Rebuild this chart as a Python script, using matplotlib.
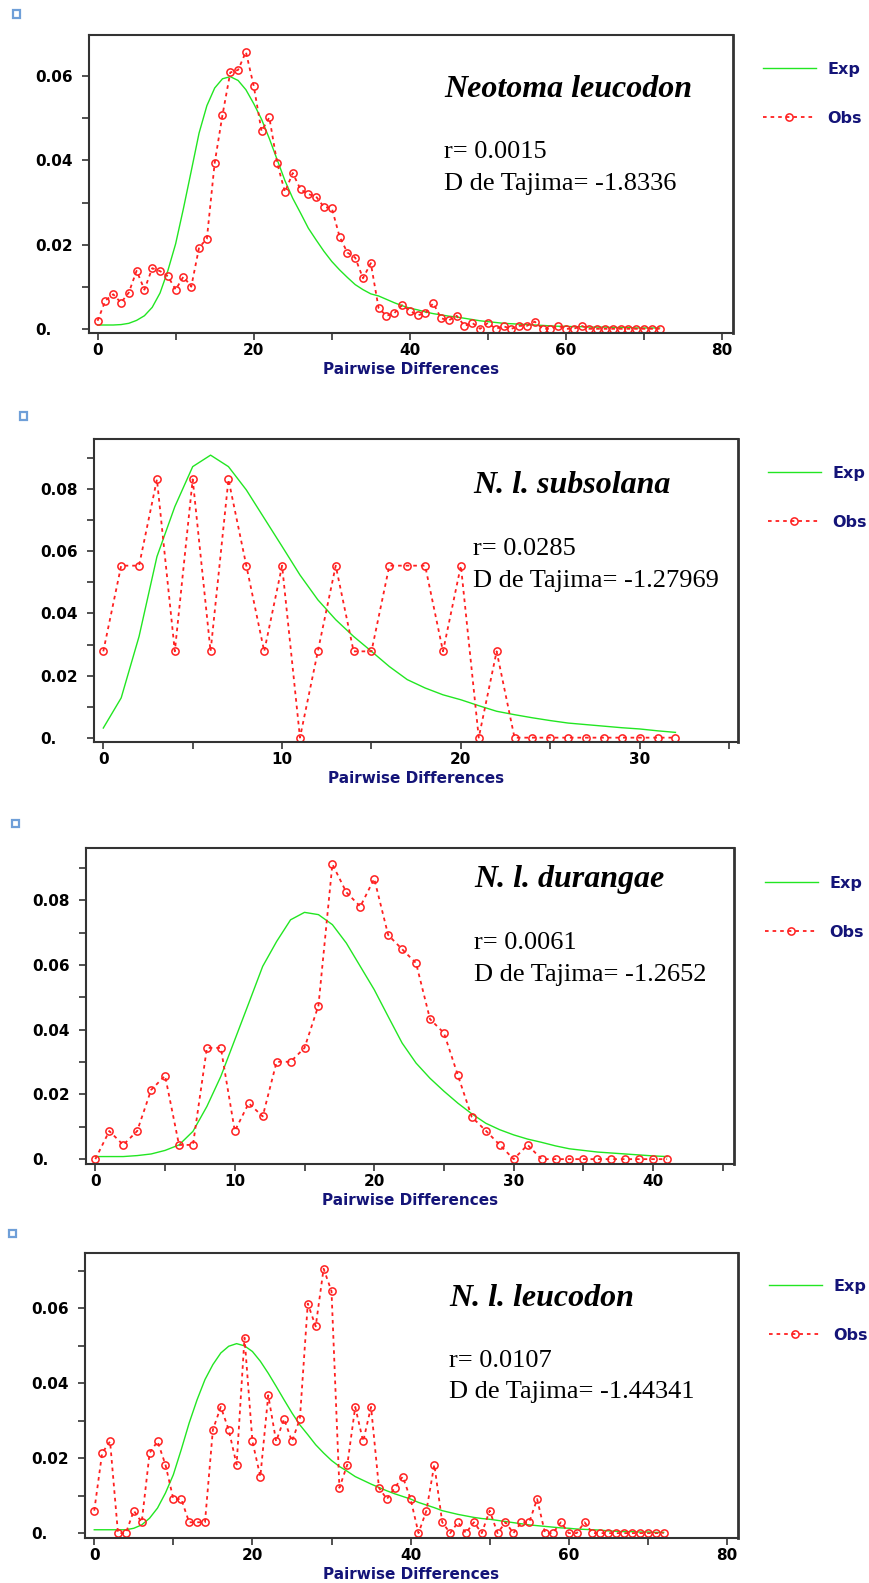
import numpy as np
import matplotlib
matplotlib.use("Agg")
import matplotlib.pyplot as plt
from matplotlib.patches import Rectangle
from matplotlib.ticker import MultipleLocator, FuncFormatter

W, H = 869, 1583

# mismatch distributions
exp_all = [0.0009, 0.0009, 0.0009, 0.0010, 0.0013, 0.0020, 0.0031, 0.0051, 0.0085, 0.0138,
           0.0202, 0.0286, 0.0375, 0.0465, 0.0530, 0.0572, 0.0594, 0.0599, 0.0590, 0.0568,
           0.0535, 0.0498, 0.0452, 0.0402, 0.0352, 0.0310, 0.0275, 0.0239, 0.0211, 0.0184,
           0.0160, 0.0140, 0.0122, 0.0105, 0.0093, 0.0083, 0.0078, 0.0070, 0.0062, 0.0055,
           0.0049, 0.0045, 0.0040, 0.0036, 0.0033, 0.0030, 0.0028, 0.0025, 0.0022, 0.0019,
           0.0017, 0.0015, 0.0013, 0.0012, 0.0011, 0.0010, 0.0009, 0.0008, 0.0007, 0.0006,
           0.0006, 0.0005, 0.0005, 0.0004, 0.0004, 0.0004, 0.0003, 0.0003, 0.0003, 0.0002,
           0.0002, 0.0002, 0.0002]
obs_all = [0.0019, 0.0067, 0.0082, 0.0062, 0.0086, 0.0138, 0.0093, 0.0144, 0.0137, 0.0125,
           0.0093, 0.0124, 0.0100, 0.0193, 0.0214, 0.0394, 0.0508, 0.0609, 0.0615, 0.0658,
           0.0577, 0.0470, 0.0502, 0.0394, 0.0325, 0.0370, 0.0331, 0.0320, 0.0314, 0.0289,
           0.0287, 0.0219, 0.0181, 0.0169, 0.0120, 0.0156, 0.0049, 0.0031, 0.0037, 0.0056,
           0.0043, 0.0032, 0.0037, 0.0061, 0.0025, 0.0020, 0.0031, 0.0007, 0.0014, 0.0000,
           0.0014, 0.0000, 0.0006, 0.0000, 0.0007, 0.0007, 0.0017, 0.0000, 0.0000, 0.0007,
           0.0000, 0.0000, 0.0007, 0.0000, 0.0000, 0.0000, 0.0000, 0.0000, 0.0000, 0.0000,
           0.0000, 0.0000, 0.0000]

exp_sub = [0.0031, 0.0128, 0.0326, 0.0583, 0.0744, 0.0873, 0.0910, 0.0873, 0.0798, 0.0707,
           0.0616, 0.0524, 0.0444, 0.0380, 0.0326, 0.0278, 0.0229, 0.0187, 0.0160, 0.0138,
           0.0122, 0.0103, 0.0085, 0.0074, 0.0064, 0.0055, 0.0047, 0.0042, 0.0037, 0.0032,
           0.0028, 0.0022, 0.0017]
obs_sub = [0.0278, 0.0554, 0.0554, 0.0832, 0.0278, 0.0832, 0.0278, 0.0832, 0.0554, 0.0278,
           0.0554, 0.0000, 0.0278, 0.0554, 0.0278, 0.0278, 0.0554, 0.0554, 0.0554, 0.0278,
           0.0554, 0.0000, 0.0278, 0.0000, 0.0000, 0.0000, 0.0000, 0.0000, 0.0000, 0.0000,
           0.0000, 0.0000, 0.0000]

exp_dur = [0.0008, 0.0008, 0.0008, 0.0011, 0.0016, 0.0027, 0.0044, 0.0086, 0.0163, 0.0256,
           0.0369, 0.0482, 0.0596, 0.0673, 0.0740, 0.0763, 0.0756, 0.0725, 0.0668, 0.0596,
           0.0524, 0.0441, 0.0359, 0.0297, 0.0250, 0.0210, 0.0173, 0.0140, 0.0111, 0.0091,
           0.0075, 0.0062, 0.0052, 0.0041, 0.0032, 0.0027, 0.0022, 0.0019, 0.0016, 0.0013,
           0.0010, 0.0008]
obs_dur = [0.0000, 0.0087, 0.0044, 0.0087, 0.0214, 0.0258, 0.0044, 0.0044, 0.0344, 0.0344,
           0.0087, 0.0173, 0.0132, 0.0301, 0.0301, 0.0344, 0.0475, 0.0912, 0.0825, 0.0781,
           0.0867, 0.0693, 0.0649, 0.0606, 0.0433, 0.0390, 0.0259, 0.0130, 0.0088, 0.0044,
           0.0000, 0.0044, 0.0000, 0.0000, 0.0000, 0.0000, 0.0000, 0.0000, 0.0000, 0.0000,
           0.0000, 0.0000]

exp_leu = [0.0009, 0.0009, 0.0009, 0.0009, 0.0009, 0.0013, 0.0022, 0.0040, 0.0067, 0.0107,
           0.0156, 0.0223, 0.0294, 0.0356, 0.0410, 0.0450, 0.0481, 0.0499, 0.0506, 0.0500,
           0.0485, 0.0459, 0.0427, 0.0392, 0.0356, 0.0321, 0.0289, 0.0263, 0.0236, 0.0214,
           0.0194, 0.0178, 0.0165, 0.0151, 0.0141, 0.0131, 0.0122, 0.0113, 0.0105, 0.0098,
           0.0091, 0.0082, 0.0075, 0.0068, 0.0060, 0.0055, 0.0050, 0.0046, 0.0042, 0.0039,
           0.0037, 0.0034, 0.0031, 0.0028, 0.0025, 0.0022, 0.0020, 0.0018, 0.0016, 0.0014,
           0.0013, 0.0011, 0.0010, 0.0009, 0.0008, 0.0006, 0.0005, 0.0004, 0.0004, 0.0003,
           0.0003, 0.0002, 0.0002]
obs_leu = [0.0060, 0.0214, 0.0245, 0.0000, 0.0000, 0.0060, 0.0029, 0.0214, 0.0245, 0.0183,
           0.0091, 0.0091, 0.0029, 0.0029, 0.0029, 0.0276, 0.0337, 0.0276, 0.0183, 0.0522,
           0.0245, 0.0151, 0.0368, 0.0245, 0.0305, 0.0245, 0.0305, 0.0613, 0.0552, 0.0706,
           0.0646, 0.0121, 0.0183, 0.0337, 0.0245, 0.0337, 0.0121, 0.0091, 0.0121, 0.0151,
           0.0091, 0.0000, 0.0060, 0.0183, 0.0029, 0.0000, 0.0029, 0.0000, 0.0029, 0.0000,
           0.0060, 0.0000, 0.0029, 0.0000, 0.0029, 0.0029, 0.0091, 0.0000, 0.0000, 0.0029,
           0.0000, 0.0000, 0.0029, 0.0000, 0.0000, 0.0000, 0.0000, 0.0000, 0.0000, 0.0000,
           0.0000, 0.0000, 0.0000]

titles = ["Neotoma leucodon", "N. l. subsolana", "N. l. durangae", "N. l. leucodon"]
r_vals = ["0.0015", "0.0285", "0.0061", "0.0107"]
tajima = ["-1.8336", "-1.27969", "-1.2652", "-1.44341"]

GREEN = "#22e622"
RED = "#ff2020"
NAVY = "#141478"
SPINE = "#333333"

# layout per panel, in pixels: axes box (l, t, r, b), limits, tick steps,
# text anchor, legend anchor, little square
panels = [
    dict(exp=exp_all, obs=obs_all, box=(89, 35, 733, 333), xlim=(-1.1, 81.4), ylim=(-0.001, 0.0698),
         xmaj=20, xmin=10, txt=(444, 97, 158, 190), leg=(763, 62), sq=(16, 14)),
    dict(exp=exp_sub, obs=obs_sub, box=(94, 439, 738, 742), xlim=(-0.52, 35.5), ylim=(-0.0014, 0.0962),
         xmaj=10, xmin=5, txt=(473, 493, 555, 587), leg=(768, 466), sq=(23, 416)),
    dict(exp=exp_dur, obs=obs_dur, box=(86, 848, 734, 1164), xlim=(-0.67, 45.8), ylim=(-0.0015, 0.0962),
         xmaj=10, xmin=5, txt=(474, 887, 949, 981), leg=(765, 876), sq=(15, 824)),
    dict(exp=exp_leu, obs=obs_leu, box=(85, 1253, 738, 1538), xlim=(-1.17, 81.4), ylim=(-0.0013, 0.0748),
         xmaj=20, xmin=10, txt=(449, 1306, 1367, 1398), leg=(769, 1279), sq=(12, 1233)),
]


def yfmt(v, pos):
    if abs(v) < 1e-9:
        return "0."
    return "%.2f" % v


fig = plt.figure(figsize=(W / 100, H / 100), dpi=100)
fig.patch.set_facecolor("white")

for i, p in enumerate(panels):
    l, t, r, b = p["box"]
    ax = fig.add_axes([l / W, 1 - b / H, (r - l) / W, (b - t) / H])
    ax.plot(np.arange(len(p["exp"])), p["exp"], color=GREEN, lw=1.0, label="Exp")
    ax.plot(np.arange(len(p["obs"])), p["obs"], color=RED, lw=1.3, ls=(0, (2.0, 2.2)),
            marker="o", ms=5.2, mfc="none", mec=RED, mew=1.1, label="Obs")
    ax.set_xlim(*p["xlim"])
    ax.set_ylim(*p["ylim"])
    ax.xaxis.set_major_locator(MultipleLocator(p["xmaj"]))
    ax.xaxis.set_minor_locator(MultipleLocator(p["xmin"]))
    ax.yaxis.set_major_locator(MultipleLocator(0.02))
    ax.yaxis.set_minor_locator(MultipleLocator(0.01))
    ax.yaxis.set_major_formatter(FuncFormatter(yfmt))
    for s in ax.spines.values():
        s.set_color(SPINE)
        s.set_linewidth(1.5)
    ax.spines["right"].set_linewidth(2.0)
    ax.tick_params(which="both", direction="out", length=5, width=1.2, color=SPINE,
                   top=False, right=False)
    ax.tick_params(axis="x", pad=2, labelsize=11)
    ax.tick_params(axis="y", pad=34, labelsize=11)
    for lab in ax.get_xticklabels() + ax.get_yticklabels():
        lab.set_fontweight("bold")
        lab.set_fontfamily("DejaVu Sans")
    for lab in ax.get_yticklabels():
        lab.set_horizontalalignment("left")

    ax.set_xlabel("Pairwise Differences", fontsize=11, fontweight="bold", color=NAVY)
    ax.xaxis.set_label_coords(0.5, -29 / (b - t))

    tx, ty, ry, dy = p["txt"]
    fig.text(tx / W, 1 - ty / H, titles[i], family="Liberation Serif", style="italic",
             weight="bold", fontsize=23, va="baseline")
    fig.text(tx / W, 1 - ry / H, "r= " + r_vals[i], family="Liberation Serif",
             fontsize=19, va="baseline")
    fig.text(tx / W, 1 - dy / H, "D de Tajima= " + tajima[i], family="Liberation Serif",
             fontsize=19, va="baseline")

    lx, ly = p["leg"]
    leg = ax.legend(loc="upper left", bbox_to_anchor=(lx / W, 1 - ly / H),
                    bbox_transform=fig.transFigure, frameon=False, borderpad=0,
                    borderaxespad=0, handlelength=3.3, handletextpad=0.75,
                    labelspacing=2.12, prop=dict(family="DejaVu Sans", weight="bold", size=11.5))
    for txt in leg.get_texts():
        txt.set_color(NAVY)

    sx, sy = p["sq"]
    fig.add_artist(Rectangle(((sx - 3.5) / W, 1 - (sy + 3.5) / H), 7 / W, 7 / H,
                             transform=fig.transFigure, facecolor="white",
                             edgecolor="#6f9fd8", lw=1.6))

fig.savefig("out.png", dpi=100, facecolor="white")
